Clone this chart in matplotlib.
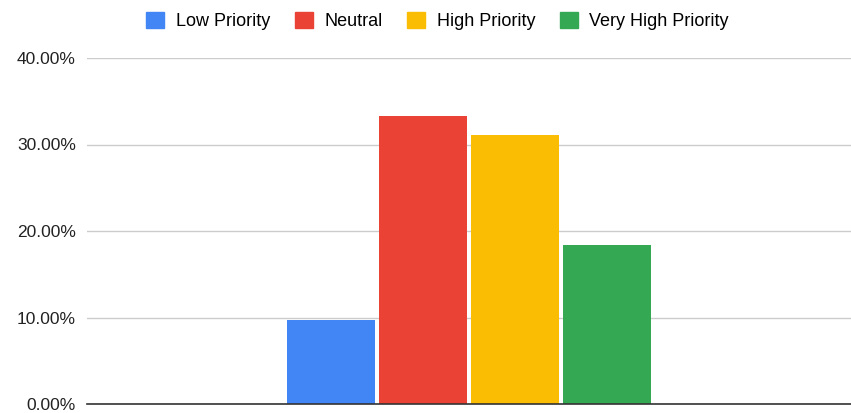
import numpy as np
import matplotlib.pyplot as plt
from matplotlib.patches import Patch

# values
series = ["Low Priority", "Neutral", "High Priority", "Very High Priority"]
values = [9.7, 33.3, 31.1, 18.4]
colors = ["#4285f4", "#ea4335", "#fbbc04", "#34a853"]
yticks = [0, 10, 20, 30, 40]

plt.rcParams['font.family'] = ['Liberation Sans', 'DejaVu Sans']

fig = plt.figure(figsize=(8.51, 4.13), dpi=100)
ax = fig.add_axes([87 / 851, 1 - 404 / 413, 764 / 851, (404 - 58) / 413])

x = np.arange(len(series)) - (len(series) - 1) / 2
ax.bar(x, values, width=0.967, color=colors, zorder=3)

ax.set_xlim(-4.152, 4.152)
ax.set_ylim(0, 40)
ax.set_yticks(yticks)
ax.set_yticklabels(["%.2f%%" % v for v in yticks], fontsize=12.5, color="#222222")
ax.set_xticks([])
ax.tick_params(axis='y', length=0, pad=8)
ax.grid(axis='y', color="#cccccc", linewidth=1, zorder=0)
for s in ["top", "right", "left"]:
    ax.spines[s].set_visible(False)
ax.spines["bottom"].set_color("#333333")
ax.spines["bottom"].set_linewidth(1.2)
ax.spines["bottom"].set_zorder(4)

handles = [Patch(facecolor=c, edgecolor=c) for c in colors]
fig.legend(handles, series, loc="center", bbox_to_anchor=(437.5 / 851, 1 - 21 / 413), ncol=4,
           frameon=False, fontsize=13, handlelength=1.0, handleheight=1.0,
           handletextpad=0.65, columnspacing=1.35)

fig.savefig("out.png", dpi=100)
